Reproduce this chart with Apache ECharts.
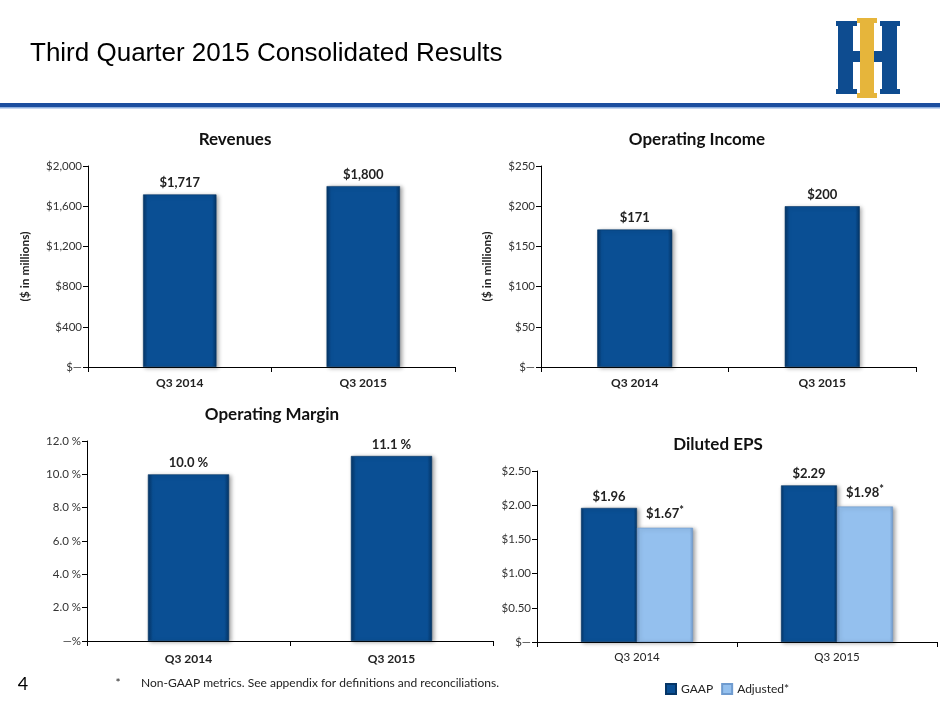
<!DOCTYPE html>
<html>
<head>
<meta charset="utf-8">
<script src="https://cdn.jsdelivr.net/npm/echarts@6/dist/echarts.min.js"></script>
<style>
  html, body { margin: 0; padding: 0; background: #fff; }
  #chart { width: 940px; height: 705px; }
</style>
</head>
<body>
<div id="chart"></div>
<script>
"use strict";
const categories = ["Q3 2014", "Q3 2015"];
const revenues = [1717, 1800];
const opIncome = [171, 200];
const opMargin = [10.0, 11.1];
const epsGaap = [1.96, 2.29];
const epsAdjusted = [1.67, 1.98];
const legendNames = ["GAAP", "Adjusted*"];

const FONT = "Lato, 'Open Sans', sans-serif";
const DARK = "#0a4f94", LIGHT = "#94c0ee", INK = "#222";

// bar fill with darker sides for the bevelled look
const bevel = (c, edge) => new echarts.graphic.LinearGradient(0, 0, 1, 0, [
  { offset: 0, color: edge }, { offset: 0.06, color: c },
  { offset: 0.94, color: c }, { offset: 1, color: edge }]);
const barStyle = (c, edge) => ({ color: bevel(c, edge), borderColor: edge, borderWidth: 0.6,
  shadowColor: "rgba(0,0,0,0.35)", shadowBlur: 4, shadowOffsetX: 2, shadowOffsetY: 1 });

const money = (v) => v === 0 ? "$—" : "$" + v.toLocaleString("en-US");
const axisBase = {
  axisLine: { show: true, lineStyle: { color: "#000", width: 1 } },
  axisTick: { show: true, length: 5, lineStyle: { color: "#000" } },
  splitLine: { show: false },
  axisLabel: { color: "#333", fontFamily: FONT, fontSize: 11.5 }
};
const yAxis = (grid, max, interval, fmt, name, gap) => Object.assign({}, axisBase, {
  type: "value", gridIndex: grid, min: 0, max, interval,
  axisLabel: Object.assign({}, axisBase.axisLabel, { formatter: fmt, margin: 6 }),
  name: name || "", nameLocation: "middle", nameRotate: 90, nameGap: gap || 57,
  nameTextStyle: { fontFamily: FONT, fontWeight: "bold", fontSize: 12, color: INK }
});
const xAxis = (grid, bold, margin) => Object.assign({}, axisBase, {
  type: "category", gridIndex: grid, data: categories,
  axisLabel: Object.assign({}, axisBase.axisLabel, { color: INK, margin,
    fontWeight: bold ? "bold" : "normal", fontSize: bold ? 12 : 11.5 })
});
const label = (fmt) => ({ show: true, position: "top", distance: 5, formatter: fmt,
  fontFamily: FONT, fontWeight: "bold", fontSize: 13, color: INK,
  rich: { v: { fontFamily: FONT, fontWeight: "bold", fontSize: 13, color: INK },
          s: { fontFamily: FONT, fontWeight: "bold", fontSize: 11, color: INK, padding: [0, 0, 7, 0] } } });

const title = (text, x, y) => ({ type: "text", x, y,
  style: { text, fill: "#111", font: "bold 17px " + FONT, textAlign: "center", textVerticalAlign: "middle" } });
const R = (x, y, w, h, fill) => ({ type: "rect", shape: { x, y, width: w, height: h }, style: { fill } });
const BLUE = "#0e4c90", GOLD = "#e6b53b";

const chart = echarts.init(document.getElementById("chart"), null, { renderer: "canvas" });
chart.setOption({
  animation: false,
  backgroundColor: "#fff",
  grid: [
    { left: 88, top: 166, width: 367, height: 201 },
    { left: 541, top: 166, width: 375, height: 201 },
    { left: 87, top: 441, width: 406, height: 200 },
    { left: 537, top: 471, width: 400, height: 171 }],
  xAxis: [xAxis(0, true, 10), xAxis(1, true, 10), xAxis(2, true, 12), xAxis(3, false, 9)],
  yAxis: [
    yAxis(0, 2000, 400, money, "($ in millions)", 57),
    yAxis(1, 250, 50, money, "($ in millions)", 48),
    yAxis(2, 12, 2, (v) => v === 0 ? "—%" : v.toFixed(1) + " %"),
    yAxis(3, 2.5, 0.5, (v) => v === 0 ? "$—" : "$" + v.toFixed(2))],
  legend: { data: legendNames, left: 660, top: 678, itemWidth: 10, itemHeight: 10, itemGap: 8,
    icon: "rect", textStyle: { fontFamily: FONT, fontSize: 12, color: INK } },
  series: [
    { name: "Revenues", type: "bar", xAxisIndex: 0, yAxisIndex: 0, data: revenues, barWidth: "40%",
      itemStyle: barStyle(DARK, "#053566"), label: label((p) => money(p.value)) },
    { name: "Operating Income", type: "bar", xAxisIndex: 1, yAxisIndex: 1, data: opIncome, barWidth: "40%",
      itemStyle: barStyle(DARK, "#053566"), label: label((p) => money(p.value)) },
    { name: "Operating Margin", type: "bar", xAxisIndex: 2, yAxisIndex: 2, data: opMargin, barWidth: "40%",
      itemStyle: barStyle(DARK, "#053566"), label: label((p) => p.value.toFixed(1) + " %") },
    { name: legendNames[0], type: "bar", xAxisIndex: 3, yAxisIndex: 3, data: epsGaap, barWidth: "28%", barGap: "0%",
      color: DARK, itemStyle: barStyle(DARK, "#053566"), label: label((p) => "$" + p.value.toFixed(2)) },
    { name: legendNames[1], type: "bar", xAxisIndex: 3, yAxisIndex: 3, data: epsAdjusted, barWidth: "28%", barGap: "0%",
      color: LIGHT, itemStyle: barStyle(LIGHT, "#6f9bcf"),
      label: label((p) => "{v|$" + p.value.toFixed(2) + "}{s|*}") }],
  graphic: [
    { type: "text", x: 30, y: 54, style: { text: "Third Quarter 2015 Consolidated Results",
      fill: "#000", font: "26px 'Liberation Sans', Arial, sans-serif", textVerticalAlign: "middle" } },
    R(0, 103, 940, 4, "#1c4e9f"), R(0, 107, 940, 1.5, "#8fb0e0"),
    // logo
    R(836, 21, 21, 5, BLUE), R(838, 23, 15, 69, BLUE), R(836, 89, 21, 5, BLUE), R(853, 51, 7, 11, BLUE),
    R(857, 18, 20, 5, GOLD), R(860, 20, 14, 76, GOLD), R(857, 93, 20, 5, GOLD),
    R(874, 51, 8, 11, BLUE), R(880, 21, 20, 5, BLUE), R(882, 23, 15, 69, BLUE), R(880, 89, 20, 5, BLUE),
    title("Revenues", 235, 140), title("Operating Income", 697, 140),
    title("Operating Margin", 272, 415), title("Diluted EPS", 718, 445),
    { type: "text", x: 23, y: 684, style: { text: "4", fill: "#000", font: "18px " + FONT,
      textAlign: "center", textVerticalAlign: "middle" } },
    { type: "text", x: 118, y: 683, style: { text: "*", fill: "#222", font: "12px " + FONT,
      textAlign: "center", textVerticalAlign: "middle" } },
    { type: "text", x: 141, y: 683, style: { text: "Non-GAAP metrics. See appendix for definitions and reconciliations.",
      fill: "#222", font: "12px " + FONT, textVerticalAlign: "middle" } }]
});
window.addEventListener("resize", () => chart.resize());
</script>
</body>
</html>
